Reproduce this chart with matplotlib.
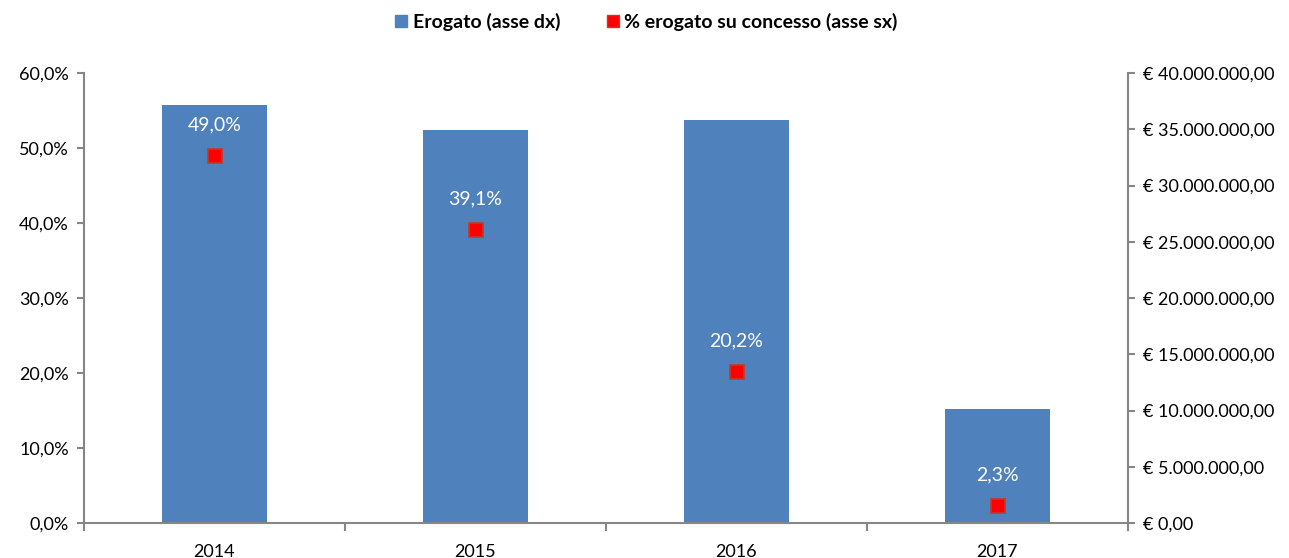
import numpy as np
import matplotlib.pyplot as plt
from matplotlib.ticker import FuncFormatter, MultipleLocator, FixedLocator
from matplotlib.lines import Line2D

plt.rcParams['font.family'] = ['Lato', 'DejaVu Sans']

anni = ['2014', '2015', '2016', '2017']
erogato = [37150000, 34950000, 35800000, 10150000]   # asse dx (euro)
perc_erogato = [49.0, 39.1, 20.2, 2.3]               # asse sx (%)

blu = '#4F81BD'
rosso = '#FF0000'
grigio = '#868686'

def euro(v, pos=None):
    s = '{:,.2f}'.format(v).replace(',', 'X').replace('.', ',').replace('X', '.')
    return '€ ' + s

fig = plt.figure(figsize=(12.89, 5.58), dpi=100)
ax = fig.add_axes([84 / 1289, 1 - 523 / 558, (1128 - 84) / 1289, (523 - 73) / 558])
x = np.arange(len(anni))

# bars on the right axis
ax.bar(x, erogato, width=0.4, color=blu, zorder=2)
ax.set_xlim(-0.5, len(anni) - 0.5)
ax.set_ylim(0, 40000000)

# percentages on the left axis
ax2 = ax.twinx()
ax.yaxis.tick_right()
ax.yaxis.set_label_position('right')
ax2.yaxis.tick_left()
ax2.yaxis.set_label_position('left')
ax.yaxis.set_major_locator(MultipleLocator(5000000))
ax.yaxis.set_major_formatter(FuncFormatter(euro))
ax2.set_ylim(0, 60)
ax2.yaxis.set_major_locator(MultipleLocator(10))
ax2.yaxis.set_major_formatter(FuncFormatter(lambda v, p: '{:.1f}%'.format(v).replace('.', ',')))
ax2.plot(x, perc_erogato, linestyle='none', marker='s', markersize=10,
         markerfacecolor=rosso, markeredgecolor='#C0392B', markeredgewidth=1.2, zorder=3)
for xi, p in zip(x, perc_erogato):
    ax2.annotate('{:.1f}%'.format(p).replace('.', ','), (xi, p), xytext=(0, 16),
                 textcoords='offset points', ha='center', va='bottom',
                 color='white', fontsize=14)

ax.set_xticks(x)
ax.set_xticklabels(anni)
ax.xaxis.set_minor_locator(FixedLocator(np.arange(-0.5, len(anni), 1)))
ax.tick_params(axis='x', which='major', length=0, labelsize=13, pad=15)
ax.tick_params(axis='x', which='minor', length=6, color=grigio, width=1.5)

for a in (ax, ax2):
    for s in a.spines.values():
        s.set_visible(False)
ax.spines['bottom'].set_visible(True)
ax.spines['bottom'].set_color(grigio)
ax.spines['bottom'].set_linewidth(1.5)
ax2.spines['left'].set_visible(True)
ax2.spines['right'].set_visible(True)
for side in ('left', 'right'):
    ax2.spines[side].set_color(grigio)
    ax2.spines[side].set_linewidth(1.5)

ax.tick_params(axis='y', length=5, color=grigio, width=1.5, labelsize=13, pad=6)
ax2.tick_params(axis='y', length=5, color=grigio, width=1.5, labelsize=13, pad=6)

handles = [
    Line2D([], [], linestyle='none', marker='s', markersize=9, markerfacecolor=blu,
           markeredgecolor=blu),
    Line2D([], [], linestyle='none', marker='s', markersize=9, markerfacecolor=rosso,
           markeredgecolor='#C0392B'),
]
fig.legend(handles, ['Erogato (asse dx)', '% erogato su concesso (asse sx)'],
           loc='center', bbox_to_anchor=(0.5, 1 - 22 / 558), ncol=2, frameon=False,
           prop={'weight': 'bold', 'size': 14}, handletextpad=0.1, columnspacing=2.2,
           handlelength=1.0)

fig.savefig('out.png', dpi=100)
